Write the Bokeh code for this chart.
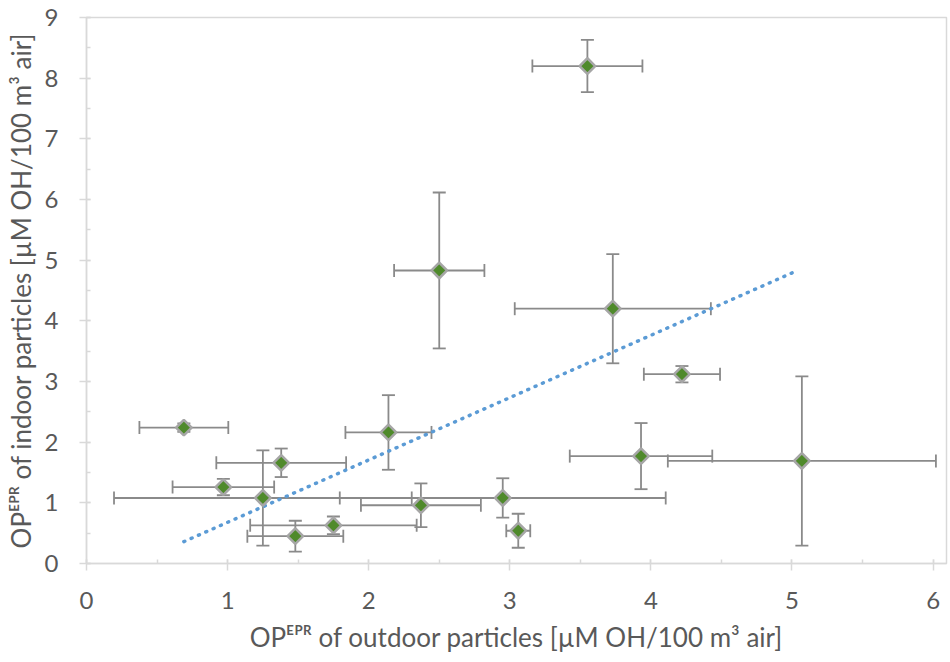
from bokeh.plotting import figure
from bokeh.models import Range1d, ColumnDataSource, Whisker, TeeHead, SingleIntervalTicker
from bokeh.embed import file_html
from bokeh.resources import INLINE

# outdoor OP (x) with symmetric error, indoor OP (y) with symmetric error
outdoor = [3.55, 2.50, 3.73, 4.22, 0.69, 2.14, 1.38, 0.97, 1.25, 1.48, 1.75, 2.37, 2.95, 3.06, 3.93, 5.07]
outdoor_err = [0.39, 0.32, 0.695, 0.27, 0.315, 0.305, 0.46, 0.36, 1.055, 0.34, 0.59, 0.425, 1.155, 0.085, 0.505, 0.95]
indoor = [8.20, 4.83, 4.20, 3.12, 2.24, 2.16, 1.66, 1.26, 1.08, 0.45, 0.63, 0.96, 1.08, 0.54, 1.77, 1.69]
indoor_err = [0.43, 1.285, 0.90, 0.135, 0.07, 0.615, 0.235, 0.135, 0.785, 0.255, 0.145, 0.36, 0.325, 0.28, 0.545, 1.395]

trend_x = [0.69, 5.03]
trend_y = [0.36, 4.82]

x_title = "OP\u1d31\u1d3e\u1d3f of outdoor particles [\u00b5M OH/100 m\u00b3 air]"
y_title = "OP\u1d31\u1d3e\u1d3f of indoor particles [\u00b5M OH/100 m\u00b3 air]"

src = ColumnDataSource(dict(
    x=outdoor, y=indoor,
    xl=[a - e for a, e in zip(outdoor, outdoor_err)],
    xu=[a + e for a, e in zip(outdoor, outdoor_err)],
    yl=[a - e for a, e in zip(indoor, indoor_err)],
    yu=[a + e for a, e in zip(indoor, indoor_err)],
))

FONT = "Lato"
TXT = "#595959"
AX = "#d9d9d9"
BAR = "#8a8a8a"

p = figure(width=950, height=662, output_backend="svg", toolbar_location=None,
           x_range=Range1d(0, 6.095), y_range=Range1d(0, 9),
           min_border_left=86, min_border_right=4, min_border_top=17, min_border_bottom=99)
p.outline_line_color = AX
p.outline_line_width = 1.5
p.xgrid.visible = False
p.ygrid.visible = False
p.background_fill_color = "white"
p.border_fill_color = "white"

p.xaxis.ticker = SingleIntervalTicker(interval=1, num_minor_ticks=2)
p.yaxis.ticker = SingleIntervalTicker(interval=1, num_minor_ticks=2)

for ax in (p.xaxis[0], p.yaxis[0]):
    ax.axis_line_color = AX
    ax.axis_line_width = 1.5
    ax.major_tick_line_color = AX
    ax.major_tick_line_width = 1.5
    ax.minor_tick_line_color = AX
    ax.minor_tick_line_width = 1.5
    ax.major_tick_out = 7
    ax.major_tick_in = 4
    ax.minor_tick_out = 0
    ax.minor_tick_in = 4
    ax.major_label_text_font = FONT
    ax.major_label_text_font_size = "24px"
    ax.major_label_text_color = TXT
    ax.axis_label_text_font = FONT
    ax.axis_label_text_font_size = "26px"
    ax.axis_label_text_color = TXT
    ax.axis_label_text_font_style = "normal"

p.xaxis.axis_label = x_title
p.yaxis.axis_label = y_title
p.xaxis.major_label_standoff = 21
p.xaxis.axis_label_standoff = 9
p.yaxis.major_label_standoff = 21
p.yaxis.axis_label_standoff = 5

# error bars
wx = Whisker(source=src, base="y", lower="xl", upper="xu", dimension="width",
             line_color=BAR, line_width=1.8, level="underlay",
             lower_head=TeeHead(size=13, line_color=BAR, line_width=1.8),
             upper_head=TeeHead(size=13, line_color=BAR, line_width=1.8))
wy = Whisker(source=src, base="x", lower="yl", upper="yu", dimension="height",
             line_color=BAR, line_width=1.8, level="underlay",
             lower_head=TeeHead(size=13, line_color=BAR, line_width=1.8),
             upper_head=TeeHead(size=13, line_color=BAR, line_width=1.8))
p.add_layout(wx)
p.add_layout(wy)

# trendline
p.line(trend_x, trend_y, line_color="#5b9bd5", line_width=3.5, line_dash="1 7", line_cap="round")

# points (rotated squares = Excel-style diamonds)
p.scatter("x", "y", source=src, marker="square", angle=0.785398, size=11,
          fill_color="#4f8a2b", line_color="#a6a6a6", line_width=2.5)

open("out.html", "w").write(file_html(p, INLINE))
